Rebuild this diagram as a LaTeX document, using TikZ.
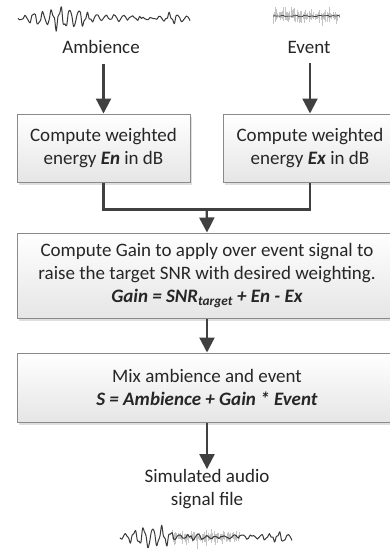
\documentclass[tikz,border=0pt]{standalone}
\usepackage{fontspec}
\setmainfont{Carlito}
\usetikzlibrary{arrows.meta,shadows,calc}
\definecolor{arrowc}{HTML}{404040}
\definecolor{boxline}{HTML}{8A8A8A}
\definecolor{txt}{HTML}{262626}
\definecolor{wave}{HTML}{3A3A3A}
\definecolor{noise}{HTML}{C4C4C4}
\tikzset{
  procbox/.style={draw=boxline, line width=1pt, top color=white, bottom color=black!10,
    drop shadow={opacity=0.25, shadow xshift=2pt, shadow yshift=-2.5pt},
    align=center, text=txt, inner sep=0pt},
  lbl/.style={text=txt, align=center, inner sep=2pt},
  arr/.style={draw=arrowc, line width=2.2pt, -{Triangle[width=15pt,length=15pt]}},
  conn/.style={draw=arrowc, line width=2.2pt},
  wv/.style={draw=wave, line width=1pt, line join=round},
  nz/.style={draw=noise, line width=0.8pt},
}
\newcommand{\bi}[1]{\textbf{\textit{#1}}}
\begin{document}
\begin{tikzpicture}[x=1pt,y=-1pt,font=\fontsize{19}{23}\selectfont]
\useasboundingbox[fill=white] (0,0) rectangle (390,549);

% top-left ambience waveform
\pgfmathsetseed{7}
\draw[wv] plot[domain=18:190, samples=100, smooth]
  (\x, {18 + (2+10*exp(-((\x-62)/30)^2) + 4*exp(-((\x-178)/12)^2))*(0.75*sin(\x*40)+0.3*sin((\x-100)*97+40)) + 1.5*rand});
% top-right event waveform
\foreach \i in {273,274.2,...,340}{
  \pgfmathsetmacro{\a}{1+9*rnd*rnd+2*rnd}
  \pgfmathsetmacro{\b}{1+9*rnd*rnd+2*rnd}
  \draw[nz] (\i,{16-\a}) -- (\i,{16+\b});
}
\draw[draw=wave, line width=0.7pt] plot[domain=273:340, samples=40] (\x,{16+0.7*rand});

% labels
\node[lbl] (amb) at (101,47) {Ambience};
\node[lbl] (evt) at (309,47) {Event};

% boxes
\node[procbox, minimum width=173pt, minimum height=68pt] (lbox) at (103.5,148)
  {Compute weighted\\energy \bi{En} in dB};
\node[procbox, minimum width=174pt, minimum height=68pt] (rbox) at (310,148)
  {Compute weighted\\energy \bi{Ex} in dB};
\node[procbox, minimum width=380pt, minimum height=85pt] (gain) at (207,275.5)
  {Compute Gain to apply over event signal to\\raise the target SNR with desired weighting.\\
   \bi{Gain = SNR\textsubscript{target} + En - Ex}};
\node[procbox, minimum width=380pt, minimum height=69pt] (mix) at (207,387.5)
  {Mix ambience and event\\\bi{S = Ambience + Gain * Event}};
\node[lbl] (out) at (207,489) {Simulated audio\\signal file};

% bottom mixed waveform
\pgfmathsetseed{11}
\foreach \i in {172,173.2,...,240}{
  \pgfmathsetmacro{\a}{1+9*rnd*rnd+2*rnd}
  \pgfmathsetmacro{\b}{1+9*rnd*rnd+2*rnd}
  \draw[nz] (\i,{537-\a}) -- (\i,{537+\b});
}
\draw[wv] plot[domain=120:292, samples=100, smooth]
  (\x, {537 + (2+10*exp(-((\x-152)/22)^2) + 4*exp(-((\x-280)/12)^2))*(0.75*sin((\x-200)*40)+0.3*sin((\x-200)*97+40)) + 1.5*rand});

% connectors
\coordinate (m) at ($(lbox.south)!0.5!(rbox.south)+(0,27)$);
\draw[arr] ([yshift=-8pt]amb.south -| lbox.north) -- (lbox.north);
\draw[arr] ([yshift=-8pt]evt.south -| rbox.north) -- (rbox.north);
\draw[conn] (lbox.south) |- (m) -| (rbox.south);
\draw[arr] (m) -- (gain.north);
\draw[arr] (gain.south) -- (mix.north);
\coordinate (oe) at ([yshift=-2pt]out.north);
\draw[arr] (mix.south) -- (oe);
\end{tikzpicture}
\end{document}
